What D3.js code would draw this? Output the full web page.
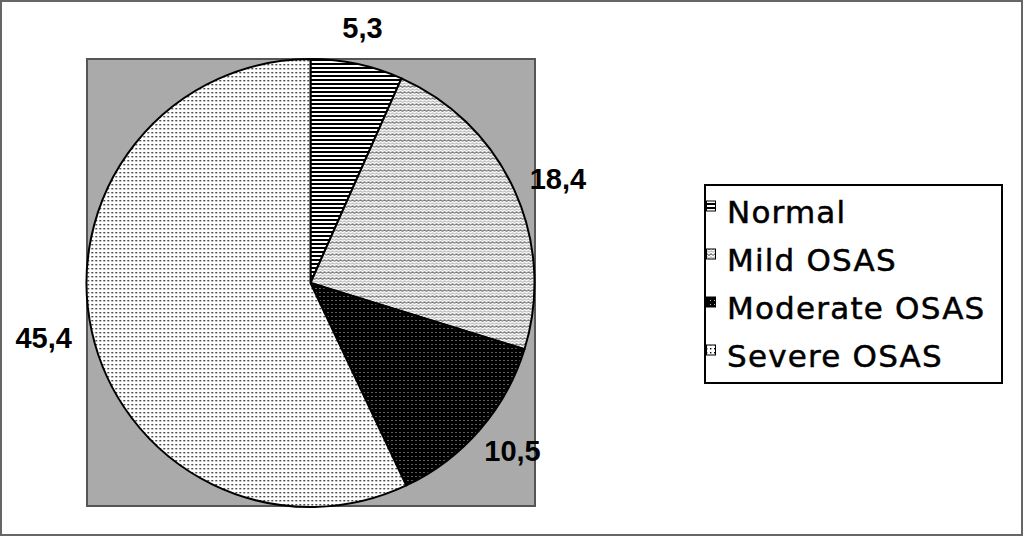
<!DOCTYPE html>
<html>
<head>
<meta charset="utf-8">
<script src="https://cdn.jsdelivr.net/npm/d3@7"></script>
<style>
  body { margin: 0; background: #fff; }
  svg { display: block; }
</style>
</head>
<body>
<svg width="1023" height="536"></svg>
<script>
// data
var categories = ['Normal', 'Mild OSAS', 'Moderate OSAS', 'Severe OSAS'];
var values = [5.3, 18.4, 10.5, 45.4];
var labels = ['5,3', '18,4', '10,5', '45,4'];
var patternIds = ['pNormal', 'pMild', 'pModerate', 'pSevere'];

var svg = d3.select('svg');
var width = +svg.attr('width');
var height = +svg.attr('height');

// plot area (grey box) and pie geometry
var plot = {x: 87, y: 59, w: 448, h: 447};
var cx = 310.5, cy = 283, radius = 224;
var labelRadius = 246;

// ---- patterns ----
var defs = svg.append('defs');

// horizontal stripes
var p1 = defs.append('pattern').attr('id', 'pNormal')
    .attr('patternUnits', 'userSpaceOnUse').attr('width', 4).attr('height', 4);
p1.append('rect').attr('width', 4).attr('height', 4).attr('fill', '#fff');
p1.append('rect').attr('width', 4).attr('height', 2).attr('fill', '#000');

// zigzag waves
var p2 = defs.append('pattern').attr('id', 'pMild')
    .attr('patternUnits', 'userSpaceOnUse').attr('width', 8).attr('height', 6);
p2.append('rect').attr('width', 8).attr('height', 6).attr('fill', '#fff');
p2.append('path').attr('d', 'M0,2.6 L2,0.6 L4,2.6 L6,0.6 L8,2.6')
    .attr('fill', 'none').attr('stroke', '#000').attr('stroke-width', 0.9);
p2.append('path').attr('d', 'M0,5.6 L2,3.6 L4,5.6 L6,3.6 L8,5.6')
    .attr('fill', 'none').attr('stroke', '#888').attr('stroke-width', 0.9);

// black with light dots
var p3 = defs.append('pattern').attr('id', 'pModerate')
    .attr('patternUnits', 'userSpaceOnUse').attr('width', 4).attr('height', 4);
p3.append('rect').attr('width', 4).attr('height', 4).attr('fill', '#000');
p3.append('rect').attr('x', 1).attr('y', 1).attr('width', 1).attr('height', 1).attr('fill', '#bbb');

// white with dark dots
var p4 = defs.append('pattern').attr('id', 'pSevere')
    .attr('patternUnits', 'userSpaceOnUse').attr('width', 4).attr('height', 4);
p4.append('rect').attr('width', 4).attr('height', 4).attr('fill', '#fff');
p4.append('rect').attr('x', 1).attr('y', 1).attr('width', 1.4).attr('height', 1.4).attr('fill', '#000');

// ---- outer frame ----
svg.append('rect')
    .attr('x', 1).attr('y', 1)
    .attr('width', width - 2).attr('height', height - 2)
    .attr('fill', '#fff').attr('stroke', '#666').attr('stroke-width', 2);

// ---- plot area ----
svg.append('rect')
    .attr('x', plot.x).attr('y', plot.y)
    .attr('width', plot.w).attr('height', plot.h)
    .attr('fill', '#aaa').attr('stroke', '#555').attr('stroke-width', 2);

// ---- pie ----
var pie = d3.pie().sort(null).value(function(d) { return d; });
var arcs = pie(values);

var arc = d3.arc().innerRadius(0).outerRadius(radius);

var g = svg.append('g').attr('transform', 'translate(' + [cx, cy] + ')');

g.selectAll('.slice')
    .data(arcs)
    .enter()
    .append('path')
    .attr('class', 'slice')
    .attr('d', arc)
    .attr('fill', function(d, i) { return 'url(#' + patternIds[i] + ')'; })
    .attr('stroke', '#000')
    .attr('stroke-width', 2)
    .attr('stroke-linejoin', 'round');

// labels: anchor on a circle outside the pie, box pushed outward by its own size
var labelText = g.selectAll('.label')
    .data(arcs)
    .enter()
    .append('text')
    .attr('class', 'label')
    .attr('text-anchor', 'middle')
    .attr('dy', '0.36em')
    .style('font-family', '"Liberation Sans", Arial, sans-serif')
    .style('font-weight', 'bold')
    .style('font-size', '29px')
    .text(function(d, i) { return labels[i]; });

labelText.attr('transform', function(d) {
    var a = (d.startAngle + d.endAngle) / 2;
    var box = this.getBBox();
    var x = Math.sin(a) * (labelRadius + box.width / 2 * Math.abs(Math.sin(a)));
    var y = -Math.cos(a) * (labelRadius + box.height / 2 * Math.abs(Math.cos(a)));
    return 'translate(' + [x, y] + ')';
});

// ---- legend ----
var legend = {x: 705, y: 185, w: 297, h: 198, rowH: 48, firstBase: 223};

svg.append('rect')
    .attr('x', legend.x).attr('y', legend.y)
    .attr('width', legend.w).attr('height', legend.h)
    .attr('fill', '#fff').attr('stroke', '#000').attr('stroke-width', 2);

var rows = svg.selectAll('.legend-row')
    .data(categories)
    .enter()
    .append('g')
    .attr('class', 'legend-row')
    .attr('transform', function(d, i) {
        return 'translate(' + [legend.x, legend.firstBase + i * legend.rowH] + ')';
    });

rows.append('rect')
    .attr('x', 1.5).attr('y', -22)
    .attr('width', 9).attr('height', 10)
    .attr('fill', function(d, i) { return 'url(#' + patternIds[i] + ')'; })
    .attr('stroke', '#000').attr('stroke-width', 1);

rows.append('text')
    .attr('x', 22)
    .attr('y', 0)
    .style('font-family', '"DejaVu Sans", Verdana, sans-serif')
    .style('font-size', '31px')
    .style('letter-spacing', '1.2px')
    .style('fill', '#000')
    .style('stroke', '#000')
    .style('stroke-width', 0.5)
    .text(function(d) { return d; });
</script>
</body>
</html>
